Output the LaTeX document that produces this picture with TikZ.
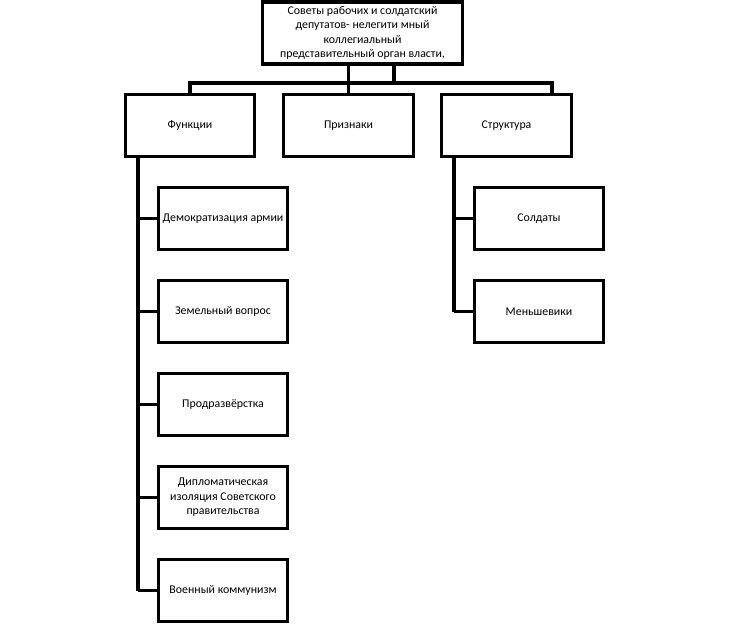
\documentclass[tikz,border=0pt]{standalone}
\usepackage{fontspec}
\setmainfont{Carlito}
\usetikzlibrary{positioning}

\begin{document}
\begin{tikzpicture}[
  x=0.75pt, y=-0.75pt,
  line width=2.3pt,
  box/.style={rectangle, draw=black, fill=white, minimum width=97pt,
              minimum height=46.5pt, align=center, inner sep=1pt,
              font=\fontsize{8.9pt}{10.9pt}\selectfont},
  topbox/.style={box, minimum width=150pt},
]
\useasboundingbox (0,0) rectangle (730,625);

\node[topbox] (top) at (362.5,33) {Советы рабочих и солдатский\\депутатов- нелегити мный\\коллегиальный\\представительный орган власти,};

% Level 1
\node[box] (fun) at (190,125.5) {Функции};
\node[box] (prz) at (348.5,125.5) {Признаки};
\node[box] (str) at (506.5,125.5) {Структура};

% Functions
\foreach \i/\txt in {1/{Демократизация армии}, 2/{Земельный вопрос}, 3/{Продразвёрстка},
    4/{Дипломатическая\\изоляция Советского\\правительства}, 5/{Военный коммунизм}}
  \node[box] (f\i) at (223,{218.5+93*(\i-1)}) {\txt};

% Structure
\node[box] (s1) at (539,218.5) {Солдаты};
\node[box] (s2) at (539,311.5) {Меньшевики};

% Bus under the top box
\coordinate (barL) at (190,83);
\coordinate (barR) at (552,83);
\coordinate (tap) at (394,83);
\draw (barL |- fun.north) -- (barL) -- (barR) -- (barR |- str.north);
\draw (top.south -| prz.north) -- (prz.north);
\draw (tap |- top.south) -- (tap);

% Trunks
\coordinate (fT) at (138,0);
\coordinate (sT) at (454,0);
\draw (fT |- fun.south) -- (fT |- f5.west);
\foreach \i in {1,...,5}
  \draw (fT |- f\i.west) -- (f\i.west);
\draw (sT |- str.south) -- (sT |- s2.west);
\foreach \i in {1,2}
  \draw (sT |- s\i.west) -- (s\i.west);
\end{tikzpicture}
\end{document}
